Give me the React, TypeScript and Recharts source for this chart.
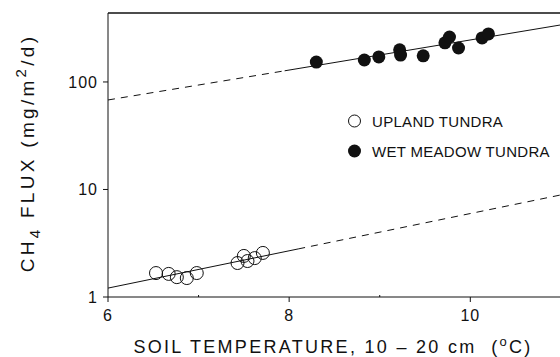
import { ComposedChart, Scatter, Line, XAxis, YAxis, ReferenceLine } from "recharts";

// soil temperature (°C) and CH4 flux (mg/m2/d)
const uplandTemp = [6.53, 6.67, 6.76, 6.87, 6.98, 7.43, 7.5, 7.54, 7.62, 7.71];
const uplandFlux = [1.67, 1.64, 1.53, 1.5, 1.67, 2.07, 2.41, 2.16, 2.3, 2.57];

const wetTemp = [8.3, 8.83, 8.99, 9.22, 9.23, 9.48, 9.72, 9.77, 9.87, 10.13, 10.2];
const wetFlux = [153, 160, 171, 199, 178, 175, 231, 262, 207, 257, 280];

// regression lines (solid over data range, dashed extrapolation)
const uplandFitSolidX = [6, 8.1];
const uplandFitSolidY = [1.21, 2.8];
const uplandFitDashX = [8.1, 11.2];
const uplandFitDashY = [2.8, 9.64];

const wetFitDashX = [6, 7.95];
const wetFitDashY = [68, 127];
const wetFitSolidX = [7.95, 11.2];
const wetFitSolidY = [127, 362];

const xTicks = [6, 7, 8, 9, 10, 11];
const xLabels = [6, 8, 10];
const yTicks = [1, 10, 100];
const yTop = 438;

const pts = (xs: number[], ys: number[]) => xs.map((x, i) => ({ x, y: ys[i] }));

const upland = pts(uplandTemp, uplandFlux);
const wet = pts(wetTemp, wetFlux);

const INK = "#111";
const FONT = "'Liberation Sans', Arial, sans-serif";

const OpenDot = (p: any) => (
  <circle cx={p.cx} cy={p.cy} r={6.5} fill="none" stroke={INK} strokeWidth={1} />
);
const FilledDot = (p: any) => <circle cx={p.cx} cy={p.cy} r={6.5} fill={INK} />;

const XTick = (props: any) => {
  const { x, y, payload } = props;
  const major = xLabels.includes(payload.value);
  return (
    <g>
      {major ? (
        <line x1={x} x2={x} y1={y - 12} y2={y - 7} stroke={INK} />
      ) : (
        <line x1={x} x2={x} y1={y - 12} y2={y - 14} stroke={INK} />
      )}
      {major && (
        <text x={x} y={y + 12} textAnchor="middle" fontSize={16} fill={INK} fontFamily={FONT} letterSpacing={1}>
          {payload.value}
        </text>
      )}
    </g>
  );
};

const XLabel = () => (
  <text
    x={333}
    y={353}
    textAnchor="middle"
    fontSize={18}
    fill={INK}
    fontFamily={FONT}
    letterSpacing={2.3}
    style={{ whiteSpace: "pre" }}
  >
    {"SOIL TEMPERATURE, 10 \u2013 20 cm  ("}
    <tspan fontSize={13} dy={-7}>o</tspan>
    <tspan dy={7}>C)</tspan>
  </text>
);

const YLabel = () => (
  <text
    x={0}
    y={0}
    transform="translate(34,153) rotate(-90)"
    textAnchor="middle"
    fontSize={19}
    fill={INK}
    fontFamily={FONT}
    letterSpacing={3.3}
    style={{ whiteSpace: "pre" }}
  >
    {"CH"}
    <tspan fontSize={15} dy={6}>4</tspan>
    <tspan dy={-6}>{" FLUX (mg/m"}</tspan>
    <tspan fontSize={15} dy={-8}>2</tspan>
    <tspan dy={8}>{"/d)"}</tspan>
  </text>
);

const LegendBox = () => (
  <div
    style={{
      position: "absolute",
      left: 347,
      top: 106,
      fontFamily: FONT,
      fontSize: 15,
      color: INK,
      letterSpacing: 0.3,
    }}
  >
    <div style={{ display: "flex", alignItems: "center", height: 30 }}>
      <svg width={25} height={16}>
        <circle cx={7.5} cy={8} r={6} fill="none" stroke={INK} />
      </svg>
      <span>UPLAND TUNDRA</span>
    </div>
    <div style={{ display: "flex", alignItems: "center", height: 30 }}>
      <svg width={25} height={16}>
        <circle cx={7.5} cy={8} r={6.5} fill={INK} />
      </svg>
      <span>WET MEADOW TUNDRA</span>
    </div>
  </div>
);

export default function App() {
  return (
    <div
      style={{
        position: "absolute",
        left: 0,
        top: 0,
        width: 560,
        height: 357,
        overflow: "hidden",
        background: "#fff",
      }}
    >
      <ComposedChart width={590} height={357} margin={{ top: 13, right: 11, bottom: 0, left: 0 }}>
        <XAxis
          type="number"
          dataKey="x"
          domain={[6, 11.2]}
          ticks={xTicks}
          allowDataOverflow
          height={60}
          stroke={INK}
          tickLine={false}
          tickSize={5}
          tickMargin={7}
          tick={<XTick />}
          label={<XLabel />}
        />
        <YAxis
          type="number"
          dataKey="y"
          scale="log"
          domain={[1, yTop]}
          allowDataOverflow
          ticks={yTicks}
          width={108}
          stroke={INK}
          tickSize={5}
          tickMargin={5}
          tick={{ fill: INK, fontSize: 16, fontFamily: FONT, letterSpacing: 1 }}
          label={<YLabel />}
        />
        <ReferenceLine y={yTop} stroke={INK} strokeWidth={1.5} ifOverflow="visible" />
        <Line data={pts(uplandFitSolidX, uplandFitSolidY)} dataKey="y" stroke={INK} strokeWidth={1} dot={false} isAnimationActive={false} />
        <Line data={pts(uplandFitDashX, uplandFitDashY)} dataKey="y" stroke={INK} strokeWidth={1} strokeDasharray="7 6" dot={false} isAnimationActive={false} />
        <Line data={pts(wetFitDashX, wetFitDashY)} dataKey="y" stroke={INK} strokeWidth={1} strokeDasharray="7 6" dot={false} isAnimationActive={false} />
        <Line data={pts(wetFitSolidX, wetFitSolidY)} dataKey="y" stroke={INK} strokeWidth={1} dot={false} isAnimationActive={false} />
        <Scatter name="UPLAND TUNDRA" data={upland} dataKey="y" shape={OpenDot} isAnimationActive={false} />
        <Scatter name="WET MEADOW TUNDRA" data={wet} dataKey="y" shape={FilledDot} isAnimationActive={false} />
      </ComposedChart>
      <LegendBox />
    </div>
  );
}
